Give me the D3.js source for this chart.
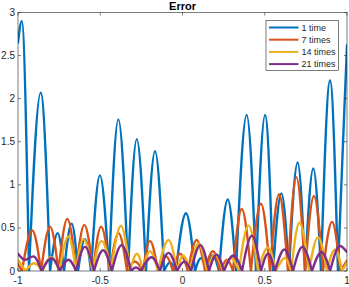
<!DOCTYPE html>
<html>
<head>
<meta charset="utf-8">
<script src="https://cdn.jsdelivr.net/npm/d3@7"></script>
<style>
  body { margin: 0; background: #fff; }
  text { font-family: "Liberation Sans", Arial, sans-serif; }
</style>
</head>
<body>
<div id="chart"></div>
<script>
// points: zero crossings, hump tops, and the ends
var seriesNames = ["1 time", "7 times", "14 times", "21 times"];
var seriesColors = ["#0072BD", "#D95319", "#EDB120", "#7E2F8E"];

var time1X = [-1, -0.977, -0.933, -0.862, -0.805, -0.759, -0.720, -0.674, -0.635, -0.593, -0.556, -0.502, -0.447, -0.390, -0.331, -0.278, -0.222, -0.167, -0.112, -0.076, -0.040, 0.021, 0.076, 0.112, 0.149, 0.185, 0.222, 0.275, 0.325, 0.390, 0.447, 0.502, 0.550, 0.601, 0.647, 0.700, 0.745, 0.795, 0.842, 0.897, 0.945, 0.976, 1];
var time1Y = [2.65, 2.9, 0, 2.07, 0, 0.44, 0, 0.55, 0, 0.37, 0, 1.11, 0, 1.76, 0, 1.53, 0, 1.39, 0, 0.1, 0, 0.67, 0, 0.15, 0, 0.18, 0, 0.83, 0, 1.81, 0, 1.81, 0, 0.9, 0, 1.26, 0, 1.19, 0, 2.21, 0, 1.5, 2.62];

var times7X = [-1, -0.976, -0.913, -0.860, -0.805, -0.754, -0.700, -0.647, -0.597, -0.544, -0.495, -0.441, -0.389, -0.337, -0.289, -0.240, -0.198, -0.149, -0.100, -0.058, -0.015, 0.033, 0.086, 0.137, 0.185, 0.228, 0.271, 0.307, 0.360, 0.416, 0.477, 0.532, 0.587, 0.641, 0.692, 0.745, 0.799, 0.854, 0.909, 0.960, 1];
var times7Y = [0.08, 0, 0.47, 0, 0.515, 0, 0.605, 0, 0.535, 0, 0.515, 0, 0.44, 0, 0.11, 0, 0.35, 0, 0.17, 0, 0.2, 0, 0.36, 0, 0.23, 0, 0.13, 0, 0.72, 0, 0.78, 0, 0.89, 0, 1.09, 0, 0.87, 0, 0.57, 0, 0.12];

var times14X = [-1, -0.954, -0.903, -0.851, -0.799, -0.748, -0.694, -0.647, -0.602, -0.547, -0.492, -0.435, -0.374, -0.319, -0.277, -0.240, -0.198, -0.149, -0.085, -0.033, 0.003, 0.046, 0.097, 0.149, 0.198, 0.246, 0.295, 0.343, 0.401, 0.459, 0.520, 0.568, 0.623, 0.660, 0.711, 0.769, 0.824, 0.878, 0.927, 0.970, 1];
var times14Y = [0.13, 0, 0.09, 0, 0.16, 0, 0.4, 0, 0.37, 0, 0.35, 0, 0.525, 0, 0.2, 0, 0.23, 0, 0.36, 0, 0.18, 0, 0.32, 0, 0.19, 0, 0.15, 0, 0.53, 0, 0.27, 0, 0.15, 0, 0.56, 0, 0.39, 0, 0.25, 0, 0.1];

var times21X = [-1, -0.957, -0.907, -0.856, -0.796, -0.745, -0.693, -0.647, -0.593, -0.538, -0.483, -0.429, -0.370, -0.313, -0.283, -0.252, -0.188, -0.137, -0.085, -0.033, 0.012, 0.052, 0.109, 0.161, 0.207, 0.252, 0.310, 0.362, 0.422, 0.477, 0.520, 0.562, 0.620, 0.672, 0.729, 0.787, 0.845, 0.897, 0.957, 1];
var times21Y = [0.2, 0.13, 0.17, 0, 0.15, 0, 0.13, 0, 0.28, 0, 0.24, 0, 0.3, 0, 0.04, 0, 0.16, 0, 0.21, 0, 0.11, 0, 0.3, 0, 0.19, 0, 0.18, 0, 0.41, 0, 0.2, 0, 0.25, 0, 0.28, 0, 0.22, 0, 0.29, 0.22];

var xTicks = [-1, -0.5, 0, 0.5, 1];
var yTicks = [0, 0.5, 1, 1.5, 2, 2.5, 3];

var width = 349, height = 287;
var plotLeft = 18, plotRight = 347, plotTop = 12.5, plotBottom = 271;
var axisColor = "#262626";

var svg = d3.select("#chart").append("svg")
    .attr("width", width)
    .attr("height", height);

var x = d3.scaleLinear().domain([-1, 1]).range([plotLeft, plotRight]);
var y = d3.scaleLinear().domain([0, 3]).range([plotBottom, plotTop]);

svg.append("clipPath").attr("id", "plotclip")
    .append("rect")
    .attr("x", plotLeft).attr("y", plotTop - 2)
    .attr("width", plotRight - plotLeft).attr("height", plotBottom - plotTop + 2);

// each hump between two zeros gets its own piece so the cusps stay sharp
var hump = d3.line()
    .x(function(d) { return x(d[0]); })
    .y(function(d) { return y(d[1]); })
    .curve(d3.curveMonotoneX);

function humpPath(xs, ys) {
    var pts = xs.map(function(v, i) { return [v, ys[i]]; });
    var pieces = [], cur = [pts[0]];
    for (var i = 1; i < pts.length; i++) {
        cur.push(pts[i]);
        if (pts[i][1] === 0 && i < pts.length - 1) {
            pieces.push(cur);
            cur = [pts[i]];
        }
    }
    pieces.push(cur);
    return pieces.map(function(p) { return hump(p); }).join("");
}

var allSeries = [[time1X, time1Y], [times7X, times7Y], [times14X, times14Y], [times21X, times21Y]];

var lines = svg.append("g").attr("clip-path", "url(#plotclip)");
allSeries.forEach(function(s, i) {
    lines.append("path")
        .attr("d", humpPath(s[0], s[1]))
        .attr("fill", "none")
        .attr("stroke", seriesColors[i])
        .attr("stroke-width", 2.4)
        .attr("stroke-linejoin", "round")
        .attr("stroke-linecap", "round");
});

// box with inward ticks on all four sides
var axes = svg.append("g");
axes.append("rect")
    .attr("x", plotLeft).attr("y", plotTop)
    .attr("width", plotRight - plotLeft).attr("height", plotBottom - plotTop)
    .attr("fill", "none")
    .attr("stroke", axisColor)
    .attr("stroke-width", 0.6);

xTicks.forEach(function(t) {
    axes.append("line").attr("x1", x(t)).attr("x2", x(t)).attr("y1", plotBottom).attr("y2", plotBottom - 3)
        .attr("stroke", axisColor).attr("stroke-width", 0.6);
    axes.append("line").attr("x1", x(t)).attr("x2", x(t)).attr("y1", plotTop).attr("y2", plotTop + 3)
        .attr("stroke", axisColor).attr("stroke-width", 0.6);
    axes.append("text")
        .attr("x", x(t)).attr("y", plotBottom + 13)
        .attr("text-anchor", "middle")
        .attr("font-size", 10)
        .attr("fill", axisColor)
        .text(t);
});

yTicks.forEach(function(t) {
    axes.append("line").attr("x1", plotLeft).attr("x2", plotLeft + 3).attr("y1", y(t)).attr("y2", y(t))
        .attr("stroke", axisColor).attr("stroke-width", 0.6);
    axes.append("line").attr("x1", plotRight).attr("x2", plotRight - 3).attr("y1", y(t)).attr("y2", y(t))
        .attr("stroke", axisColor).attr("stroke-width", 0.6);
    axes.append("text")
        .attr("x", plotLeft - 3).attr("y", y(t) + 3.5)
        .attr("text-anchor", "end")
        .attr("font-size", 10)
        .attr("fill", axisColor)
        .text(t);
});

svg.append("text")
    .attr("x", (plotLeft + plotRight) / 2).attr("y", 10)
    .attr("text-anchor", "middle")
    .attr("font-size", 11)
    .attr("font-weight", "bold")
    .attr("fill", "#000")
    .text("Error");

// legend
var legend = svg.append("g");
legend.append("rect")
    .attr("x", 266).attr("y", 20.5)
    .attr("width", 72.5).attr("height", 50)
    .attr("fill", "#fff")
    .attr("stroke", axisColor)
    .attr("stroke-width", 0.6);

seriesNames.forEach(function(name, i) {
    var ly = 27.5 + i * 12.2;
    legend.append("line")
        .attr("x1", 269).attr("x2", 298.5)
        .attr("y1", ly).attr("y2", ly)
        .attr("stroke", seriesColors[i])
        .attr("stroke-width", 2);
    legend.append("text")
        .attr("x", 301.5).attr("y", ly + 3.2)
        .attr("font-size", 9)
        .attr("fill", axisColor)
        .text(name);
});
</script>
</body>
</html>
